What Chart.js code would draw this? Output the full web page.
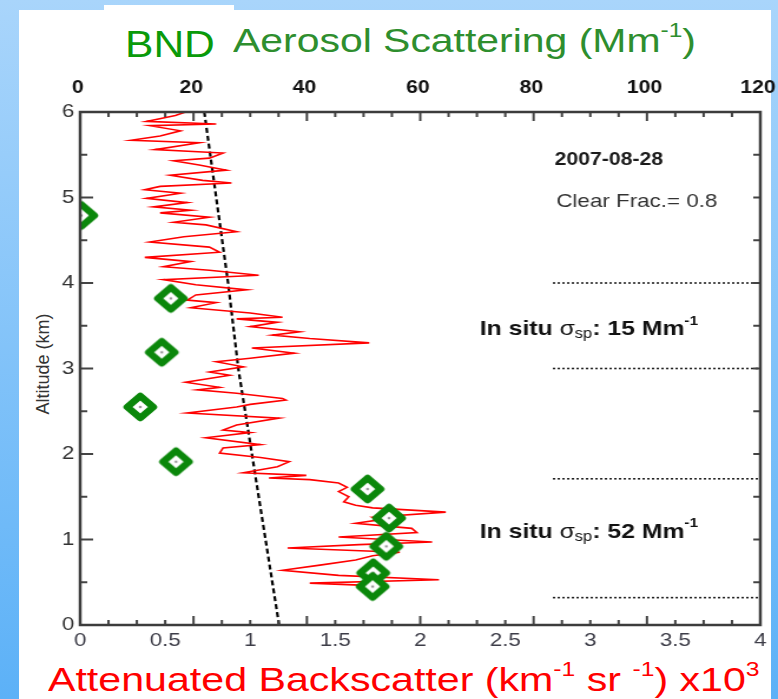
<!DOCTYPE html>
<html>
<head>
<meta charset="utf-8">
<script src="https://cdn.jsdelivr.net/npm/chart.js@4/dist/chart.umd.min.js"></script>
<style>
  html, body { margin: 0; padding: 0; }
  body {
    width: 778px; height: 699px; position: relative; overflow: hidden;
    background: linear-gradient(to bottom, #a9d5fb, #5cb1f7);
    font-family: "Liberation Sans", Arial, sans-serif;
  }
  #panel { position: absolute; left: 19px; top: 10px; width: 752px; height: 689px; background: #fff; }
  #tab { position: absolute; left: 104px; top: 5px; width: 130px; height: 6px; background: #fff; }
  #wrap { position: absolute; left: 0; top: 0; width: 778px; height: 699px; }
  /* the source figure is stretched sideways, so the canvas is too */
  #chart { width: 778px; height: 699px; }
  .t { position: absolute; white-space: nowrap; line-height: 1; transform-origin: left top; }
  .t sup { font-size: 0.6em; vertical-align: 0.75em; line-height: 0; }
  #ytitle { position: absolute; left: 43px; top: 364px; font-size: 18px; color: #333; white-space: nowrap;
    transform: translate(-50%, -50%) rotate(-90deg); }
</style>
</head>
<body>
<div id="panel"></div>
<div id="tab"></div>
<div class="t" style="left:125px; top:26px; font-size:37px; color:#0a9a0a; transform:scaleX(1.15);">BND</div>
<div class="t" style="left:233px; top:24px; font-size:33px; color:#2e8e2e; transform:scaleX(1.24);">Aerosol Scattering (Mm<sup>-1</sup>)</div>
<div class="t" style="left:48px; top:662px; font-size:34px; color:#ff0000; transform:scaleX(1.21);">Attenuated Backscatter (km<sup>-1</sup> sr <sup>-1</sup>) x10<sup>3</sup></div>
<div id="ytitle">Altitude (km)</div>
<div id="wrap"><canvas id="chart" width="660" height="699" style="width:778px;height:699px"></canvas></div>
<script>
// lidar attenuated backscatter profile (x1000 km-1 sr-1) vs altitude (km)
const redAlt = [6.00,5.96,5.89,5.86,5.84,5.78,5.72,5.67,5.64,5.56,
  5.52,5.46,5.43,5.38,5.32,5.26,5.20,5.17,5.13,5.09,
  5.05,4.99,4.94,4.89,4.85,4.82,4.77,4.71,4.68,4.60,
  4.54,4.48,4.42,4.36,4.30,4.25,4.19,4.15,4.09,4.04,
  3.98,3.92,3.86,3.80,3.77,3.71,3.65,3.60,3.58,3.54,
  3.49,3.43,3.39,3.35,3.30,3.24,3.18,3.12,3.08,3.02,
  2.96,2.92,2.84,2.78,2.75,2.71,2.65,2.63,2.58,2.55,
  2.48,2.42,2.34,2.28,2.25,2.19,2.11,2.07,2.01,1.96,
  1.91,1.85,1.78,1.75,1.72,1.70,1.66,1.61,1.56,1.50,
  1.44,1.40,1.37,1.32,1.26,1.23,1.19,1.13,1.08,1.03,
  0.97,0.94,0.90,0.85,0.81,0.76,0.70,0.64,0.58,0.53,
  0.49,0.46];
const redVal = [0.62,0.56,0.39,0.80,0.41,0.59,0.47,0.30,0.70,0.44,
  0.84,0.76,0.55,0.70,0.86,0.53,0.72,0.89,0.47,0.38,
  0.59,0.39,0.63,0.43,0.65,0.47,0.76,0.55,0.74,0.92,
  0.61,0.41,0.76,0.82,0.38,0.65,0.49,0.76,1.05,0.49,
  0.68,0.98,0.68,0.63,0.80,0.65,1.00,1.19,0.92,1.16,
  1.00,1.29,1.13,1.35,1.70,1.01,1.26,1.00,0.80,0.96,
  0.76,0.88,0.62,0.82,0.69,0.92,1.19,1.21,1.00,0.92,
  0.63,1.17,0.92,0.84,1.00,0.74,1.06,0.84,0.82,1.06,
  1.23,1.16,0.96,1.33,1.11,1.35,1.52,1.57,1.52,1.58,
  1.55,1.62,1.72,2.15,1.72,1.76,1.62,1.95,1.98,1.52,
  2.07,1.64,1.22,1.88,1.72,1.62,1.41,1.19,1.52,2.11,
  1.35,1.72];

// molecular (clear air) backscatter, dashed line
const molAlt = [0, 1, 2, 3, 4, 5, 6];
const molVal = [1.17, 1.09, 1.01, 0.93, 0.87, 0.80, 0.73];

// in situ aerosol scattering (Mm-1), top axis
const insituAlt = [4.79, 3.82, 3.19, 2.55, 1.91, 1.59, 1.25, 0.92, 0.61, 0.45];
const insituVal = [0.2, 16.0, 14.4, 10.6, 16.9, 50.7, 54.5, 54.0, 51.7, 51.6];

// layer boundaries (dotted), altitude in km
const layerAlt = [4.0, 3.0, 1.71, 0.32];
const layerFrom = 2.78;
const layerTo = 4.0;

const bottomTicks = [0, 0.5, 1, 1.5, 2, 2.5, 3, 3.5, 4];
const topTicks = [0, 20, 40, 60, 80, 100, 120];
const altTicks = [0, 1, 2, 3, 4, 5, 6];

const FONT = "'Liberation Sans', Arial, sans-serif";
Chart.defaults.font.family = FONT;

// diamond marker with a small dot in the middle
function diamond() {
  const c = document.createElement("canvas");
  c.width = 36; c.height = 36;
  const g = c.getContext("2d");
  g.beginPath();
  g.moveTo(18, 7);
  g.lineTo(29, 18);
  g.lineTo(18, 29);
  g.lineTo(7, 18);
  g.closePath();
  g.fillStyle = "#fff";
  g.fill();
  g.lineJoin = "round";
  g.lineWidth = 6.5;
  g.strokeStyle = "#0a870a";
  g.stroke();
  g.fillStyle = "#999";
  g.beginPath();
  g.arc(18, 18, 1.3, 0, Math.PI * 2);
  g.fill();
  return c;
}

function richText(ctx, x, y, parts) {
  let cx = x;
  parts.forEach((p) => {
    ctx.font = p.font;
    ctx.fillStyle = p.color || "#111";
    ctx.fillText(p.t, cx, y + (p.dy || 0));
    cx += ctx.measureText(p.t).width;
  });
}

function insituLabel(v) {
  return [
    { t: "In situ ", font: "bold 21px " + FONT },
    { t: "\u03c3", font: "21px " + FONT },
    { t: "sp", font: "14px " + FONT, dy: 5 },
    { t: ": " + v + " Mm", font: "bold 21px " + FONT },
    { t: "-1", font: "bold 13px " + FONT, dy: -8 },
  ];
}

const frame = {
  id: "frame",
  afterDatasetsDraw(chart) {
    const { ctx, chartArea: a, scales } = chart;
    const x = scales.x, x2 = scales.x2, y = scales.y;
    ctx.save();
    ctx.strokeStyle = "#444";
    ctx.lineWidth = 2;
    ctx.beginPath();
    for (let v = 0; v <= 120; v += 5) {
      const px = x2.getPixelForValue(v);
      const len = v % 20 === 0 ? 9 : 5;
      ctx.moveTo(px, a.top);
      ctx.lineTo(px, a.top + len);
      ctx.moveTo(px, a.bottom);
      ctx.lineTo(px, a.bottom - len);
    }
    for (let v = 0; v <= 6; v += 0.5) {
      const py = y.getPixelForValue(v);
      ctx.moveTo(a.left, py);
      ctx.lineTo(a.left + (v % 1 === 0 ? 11 : 6), py);
      ctx.moveTo(a.right, py);
      ctx.lineTo(a.right - 6, py);
    }
    ctx.stroke();
    ctx.lineWidth = 2.5;
    ctx.strokeStyle = "#3c3c3c";
    ctx.strokeRect(a.left, a.top, a.right - a.left, a.bottom - a.top);

    // annotations
    ctx.textBaseline = "middle";
    ctx.textAlign = "left";
    richText(ctx, x.getPixelForValue(2.79), y.getPixelForValue(5.44),
      [{ t: "2007-08-28", font: "bold 18px " + FONT, color: "#1a1a1a" }]);
    richText(ctx, x.getPixelForValue(2.8), y.getPixelForValue(4.95),
      [{ t: "Clear Frac.= 0.8", font: "19px " + FONT, color: "#333" }]);
    const ix = x.getPixelForValue(2.35);
    richText(ctx, ix, y.getPixelForValue(3.46), insituLabel(15));
    richText(ctx, ix, y.getPixelForValue(1.09), insituLabel(52));
    ctx.restore();
  },
};

const toPts = (xs, ys) => xs.map((v, i) => ({ x: v, y: ys[i] }));

const datasets = [
  {
    data: toPts(insituVal, insituAlt),
    xAxisID: "x2",
    yAxisID: "y",
    showLine: false,
    pointStyle: diamond(),
    pointRadius: 14,
  },
  {
    data: toPts(redVal, redAlt),
    xAxisID: "x",
    yAxisID: "y",
    showLine: true,
    borderColor: "#ff0000",
    borderWidth: 1.6,
    pointRadius: 0,
    tension: 0,
  },
  {
    data: toPts(molVal, molAlt),
    xAxisID: "x",
    yAxisID: "y",
    showLine: true,
    borderColor: "#000",
    borderWidth: 2.2,
    borderDash: [5, 3],
    pointRadius: 0,
  },
];
layerAlt.forEach((h) => {
  datasets.push({
    data: [{ x: layerFrom, y: h }, { x: layerTo, y: h }],
    xAxisID: "x",
    yAxisID: "y",
    showLine: true,
    borderColor: "#222",
    borderWidth: 1.6,
    borderDash: [2, 2],
    pointRadius: 0,
  });
});

new Chart(document.getElementById("chart"), {
  type: "scatter",
  data: { datasets },
  options: {
    responsive: false,
    animation: false,
    layout: { padding: { left: 0, right: 13.6, top: 0, bottom: 0 } },
    plugins: { legend: { display: false }, tooltip: { enabled: false } },
    scales: {
      x: {
        type: "linear",
        position: "bottom",
        min: 0,
        max: 4,
        afterBuildTicks: (s) => { s.ticks = bottomTicks.map((v) => ({ value: v })); },
        afterFit: (s) => { s.height = 74; s.paddingLeft = 0; s.paddingRight = 0; },
        grid: { display: false, drawTicks: false },
        border: { display: false },
        ticks: { padding: 4, color: "#3d3d48", font: { size: 19 }, maxRotation: 0,
          callback: (v) => String(v) },
      },
      x2: {
        type: "linear",
        position: "top",
        min: 0,
        max: 120,
        afterBuildTicks: (s) => { s.ticks = topTicks.map((v) => ({ value: v })); },
        afterFit: (s) => { s.height = 112; s.paddingLeft = 0; s.paddingRight = 0; },
        grid: { display: false },
        border: { display: false },
        ticks: { padding: 5, labelOffset: -2, color: "#111", font: { size: 18, weight: "bold" }, maxRotation: 0 },
      },
      y: {
        type: "linear",
        position: "left",
        min: 0,
        max: 6,
        afterBuildTicks: (s) => { s.ticks = altTicks.map((v) => ({ value: v })); },
        afterFit: (s) => { s.width = 68; },
        grid: { display: false, drawTicks: false },
        border: { display: false },
        ticks: { padding: 5, color: "#333", font: { size: 19 } },
      },
    },
  },
  plugins: [frame],
});
</script>
</body>
</html>
